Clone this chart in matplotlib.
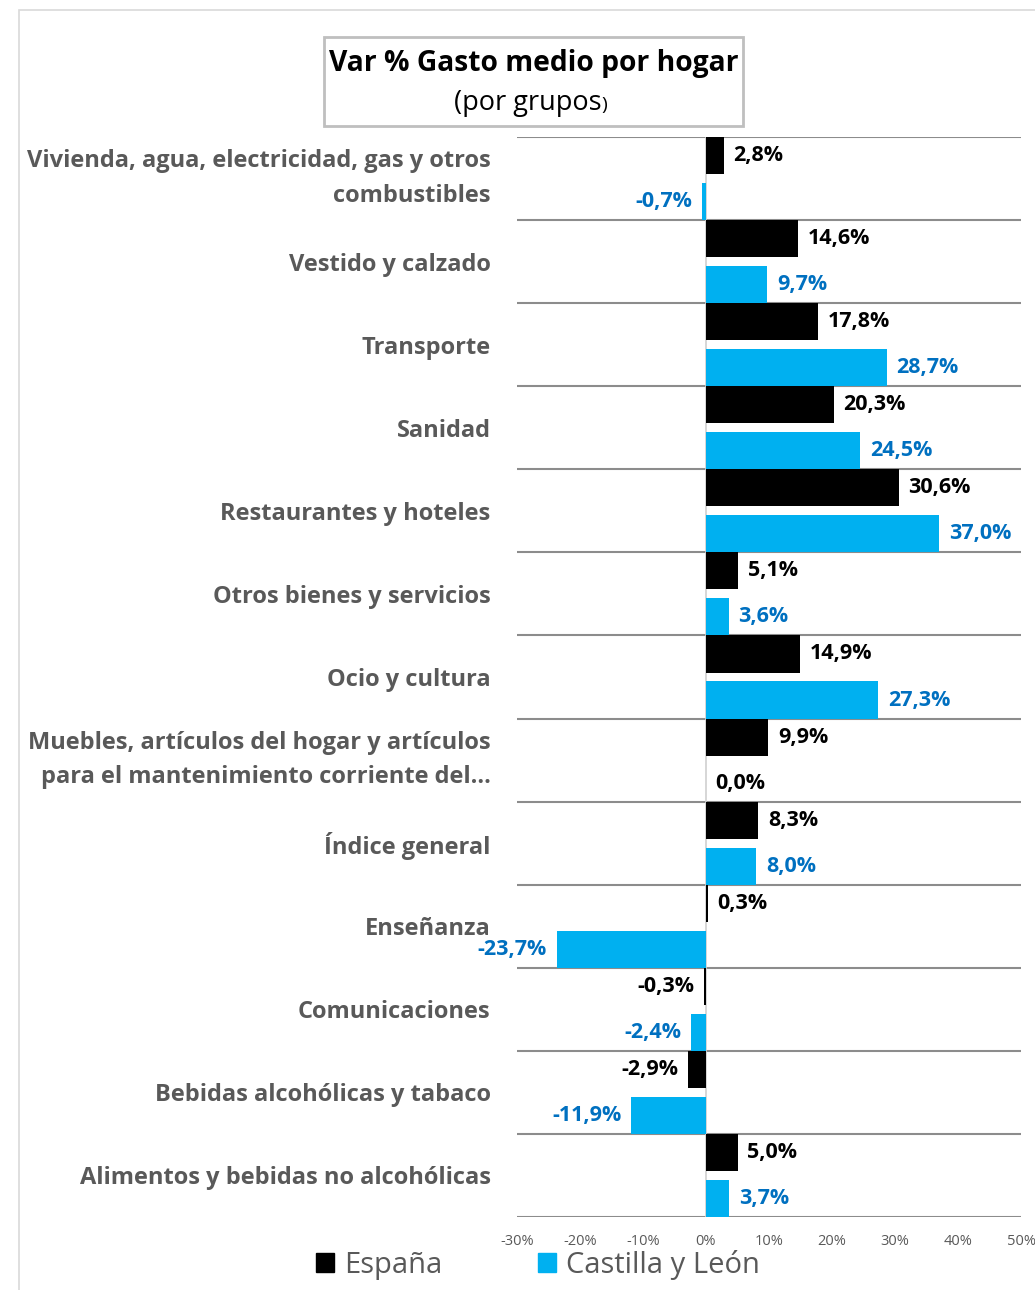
import matplotlib
matplotlib.use("Agg")
import matplotlib.pyplot as plt
from matplotlib.patches import Rectangle
from matplotlib.ticker import FuncFormatter
import numpy as np

plt.rcParams['font.family'] = ['Open Sans', 'DejaVu Sans']

categorias = [
    "Vivienda, agua, electricidad, gas y otros\ncombustibles",
    "Vestido y calzado",
    "Transporte",
    "Sanidad",
    "Restaurantes y hoteles",
    "Otros bienes y servicios",
    "Ocio y cultura",
    "Muebles, artículos del hogar y artículos\npara el mantenimiento corriente del...",
    "Índice general",
    "Enseñanza",
    "Comunicaciones",
    "Bebidas alcohólicas y tabaco",
    "Alimentos y bebidas no alcohólicas",
]
espana = [2.8, 14.6, 17.8, 20.3, 30.6, 5.1, 14.9, 9.9, 8.3, 0.3, -0.3, -2.9, 5.0]
castilla = [-0.7, 9.7, 28.7, 24.5, 37.0, 3.6, 27.3, 0.0, 8.0, -23.7, -2.4, -11.9, 3.7]
x_ticks = [-30, -20, -10, 0, 10, 20, 30, 40, 50]

GRIS = "#595959"
NEGRO = "#000000"
AZUL = "#00B0F0"
AZUL_TXT = "#0070C0"

W, H = 1035, 1290
fig = plt.figure(figsize=(W / 100, H / 100), dpi=100)
ax = fig.add_axes([517 / W, 1 - 1217 / H, (1021 - 517) / W, (1217 - 137) / H])

y = np.arange(len(categorias))
alto = 0.446
off = 0.5 - alto / 2

ax.barh(y - off, espana, height=alto, color=NEGRO, zorder=3)
ax.barh(y + off, castilla, height=alto, color=AZUL, zorder=3)

# etiquetas de datos
for serie, dy, col in [(espana, -off, NEGRO), (castilla, off, AZUL_TXT)]:
    for i, v in enumerate(serie):
        txt = f"{v:.1f}%".replace(".", ",")
        c = NEGRO if v == 0 else col
        if v < 0:
            ax.annotate(txt, (v, i + dy), xytext=(-7, 0), textcoords="offset points",
                        ha="right", va="center", fontsize=15.5, fontweight="bold", color=c)
        else:
            ax.annotate(txt, (v, i + dy), xytext=(7, 0), textcoords="offset points",
                        ha="left", va="center", fontsize=15.5, fontweight="bold", color=c)

ax.set_xlim(-30, 50)
ax.set_ylim(len(categorias) - 0.5, -0.5)
ax.set_xticks(x_ticks)
ax.xaxis.set_major_formatter(FuncFormatter(lambda v, p: f"{v:.0f}%"))
ax.tick_params(axis="x", length=0, pad=12, labelsize=10.5, labelcolor=GRIS)
ax.set_yticks(y)
ax.set_yticklabels(categorias, fontsize=17, fontweight="bold", color=GRIS,
                   linespacing=1.6)
ax.tick_params(axis="y", length=0, pad=19)
for lbl in ax.get_yticklabels():
    if "\n" in lbl.get_text():
        lbl.set_verticalalignment("center")

# líneas de división entre categorías
ax.hlines(np.arange(-0.5, len(categorias)), -30, 50, color="#8C8C8C", lw=1.5, zorder=2)
ax.axvline(0, color="#D0D0D0", lw=1.2, zorder=2)
for s in ax.spines.values():
    s.set_visible(False)

# título en recuadro
fig.add_artist(Rectangle((324 / W, 1 - 126 / H), (743 - 324) / W, (126 - 37) / H,
                         transform=fig.transFigure, fill=False, ec="#BFBFBF", lw=2))
fig.text(534 / W, 1 - 63 / H, "Var % Gasto medio por hogar", ha="center", va="center",
         fontsize=20.3, fontweight="bold", color="black")
t2 = fig.text(528 / W, 1 - 103 / H, "(por grupos", ha="center", va="center",
              fontsize=19.5, color="black")
ax.annotate(")", xy=(1, 0.12), xycoords=t2, ha="left", va="bottom",
            fontsize=14, color="black", annotation_clip=False)

# borde del gráfico
fig.add_artist(Rectangle((19 / W, -0.1), 1.2, 1 - 10 / H + 0.1,
                         transform=fig.transFigure, fill=False, ec="#D9D9D9", lw=1.2))

# leyenda
h1 = Rectangle((0, 0), 1, 1, color=NEGRO)
h2 = Rectangle((0, 0), 1, 1, color=AZUL)
fig.legend([h1, h2], ["España", "Castilla y León"], loc="center",
           bbox_to_anchor=(538 / W, 1 - 1265 / H), ncol=2, frameon=False,
           fontsize=21, labelcolor=GRIS, handlelength=0.6, handleheight=0.6,
           handletextpad=0.35, columnspacing=3.3)

fig.savefig("out.png", dpi=100)
